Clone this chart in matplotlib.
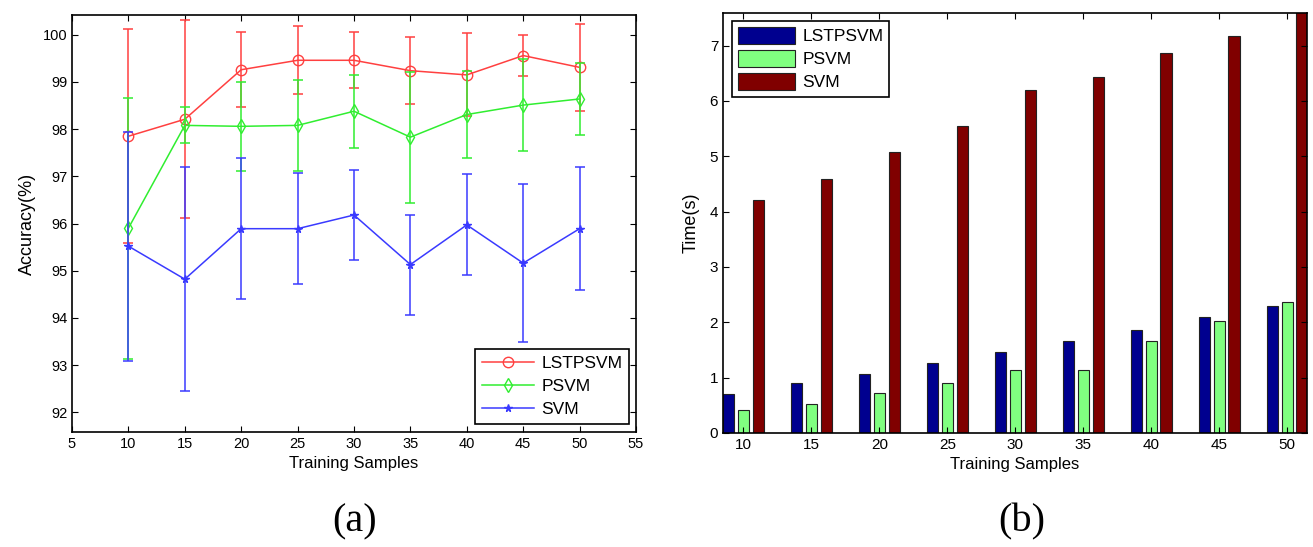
import numpy as np
import matplotlib
matplotlib.use("Agg")
import matplotlib.pyplot as plt

plt.rcParams['font.family'] = ['Liberation Sans', 'DejaVu Sans']

samples = [10, 15, 20, 25, 30, 35, 40, 45, 50]
methods = ['LSTPSVM', 'PSVM', 'SVM']

# (a) accuracy mean and std over runs
acc_lstpsvm = [97.85, 98.21, 99.26, 99.46, 99.46, 99.24, 99.15, 99.56, 99.31]
err_lstpsvm = [2.27, 2.10, 0.80, 0.72, 0.59, 0.71, 0.88, 0.44, 0.92]
acc_psvm = [95.90, 98.08, 98.06, 98.08, 98.38, 97.83, 98.31, 98.51, 98.64]
err_psvm = [2.77, 0.38, 0.94, 0.97, 0.77, 1.39, 0.93, 0.97, 0.77]
acc_svm = [95.52, 94.82, 95.89, 95.89, 96.18, 95.13, 95.97, 95.16, 95.89]
err_svm = [2.43, 2.38, 1.49, 1.17, 0.95, 1.06, 1.07, 1.67, 1.30]

# (b) training time in seconds
time_lstpsvm = [0.70, 0.90, 1.07, 1.27, 1.46, 1.67, 1.87, 2.09, 2.29]
time_psvm = [0.41, 0.52, 0.72, 0.90, 1.14, 1.14, 1.67, 2.02, 2.36]
time_svm = [4.21, 4.59, 5.08, 5.54, 6.19, 6.43, 6.86, 7.18, 7.70]

W, H = 1313, 547
fig = plt.figure(figsize=(W / 100, H / 100), dpi=100)

def box(x0, y0, x1, y1):
    return [x0 / W, 1 - y1 / H, (x1 - x0) / W, (y1 - y0) / H]

# ---- (a) accuracy with error bars
ax1 = fig.add_axes(box(72, 15, 636, 432))
styles = [(acc_lstpsvm, err_lstpsvm, '#ff4040', 'o', 7.5),
          (acc_psvm, err_psvm, '#30ee30', 'd', 7.5),
          (acc_svm, err_svm, '#3a3aff', '*', 5.5)]
for (acc, err, col, mk, ms), name in zip(styles, methods):
    ax1.errorbar(samples, acc, yerr=err, fmt='none', ecolor=col,
                 elinewidth=1.1, capsize=3.5, capthick=1.1)
    ax1.plot(samples, acc, color=col, marker=mk, ms=ms, lw=1.1,
             mfc='none' if mk != '*' else col, mec=col, label=name)
ax1.set_xlim(5, 55)
ax1.set_ylim(91.58, 100.42)
ax1.set_xticks(range(5, 60, 5))
ax1.set_yticks(range(92, 101))
ax1.tick_params(direction='in', top=True, right=True, length=4, labelsize=10.5)
ax1.set_xlabel('Training Samples', fontsize=12, labelpad=4)
ax1.set_ylabel('Accuracy(%)', fontsize=13, labelpad=5)
leg1 = ax1.legend(loc='lower right', bbox_to_anchor=(0.988, 0.019),
                  borderaxespad=0, fontsize=12.5, handlelength=3.0,
                  fancybox=False, edgecolor='black', framealpha=1,
                  labelspacing=0.45, borderpad=0.4, handletextpad=0.4)
leg1.get_frame().set_linewidth(1.2)

# ---- (b) training time grouped bars
ax2 = fig.add_axes(box(723, 13, 1307, 433))
pos = np.arange(1, len(samples) + 1)
bw, off = 0.17, 0.22
ax2.bar(pos - off, time_lstpsvm, bw, color='#00008f', edgecolor='#222222', lw=0.8, label=methods[0])
ax2.bar(pos, time_psvm, bw, color='#80ff80', edgecolor='#222222', lw=0.8, label=methods[1])
ax2.bar(pos + off, time_svm, bw, color='#800000', edgecolor='#222222', lw=0.8, label=methods[2])
ax2.set_xlim(0.70, 9.29)
ax2.set_ylim(0, 7.59)
ax2.set_xticks(pos)
ax2.set_xticklabels(samples)
ax2.set_yticks(range(0, 8))
ax2.tick_params(direction='in', top=True, right=True, length=4, labelsize=11)
ax2.set_xlabel('Training Samples', fontsize=12, labelpad=4)
ax2.set_ylabel('Time(s)', fontsize=13, labelpad=7)
leg2 = ax2.legend(loc='upper left', bbox_to_anchor=(0.0154, 0.982),
                  borderaxespad=0, fontsize=12.5, handlelength=3.3,
                  handleheight=1.2, fancybox=False, edgecolor='black',
                  framealpha=1, labelspacing=0.3, borderpad=0.35,
                  handletextpad=0.4)
leg2.get_frame().set_linewidth(1.2)

for ax in (ax1, ax2):
    for s in ax.spines.values():
        s.set_linewidth(1.2)

fig.text(355 / W, 1 - 522 / H, '(a)', ha='center', va='center',
         family='Liberation Serif', fontsize=29)
fig.text(1022 / W, 1 - 522 / H, '(b)', ha='center', va='center',
         family='Liberation Serif', fontsize=29)

fig.savefig('out.png', dpi=100)
